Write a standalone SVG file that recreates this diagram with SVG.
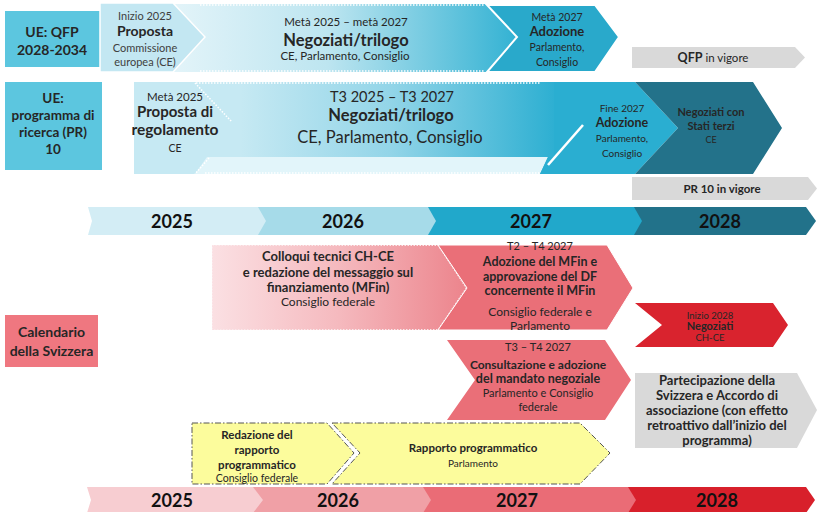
<svg xmlns="http://www.w3.org/2000/svg" width="817" height="512" viewBox="0 0 817 512">
<defs>
<linearGradient id="gTop" x1="173" y1="0" x2="517" y2="0" gradientUnits="userSpaceOnUse">
<stop offset="0" stop-color="#e3f4f9"/><stop offset="0.45" stop-color="#bde5f0"/><stop offset="1" stop-color="#33b2d3"/>
</linearGradient>
<linearGradient id="gRow2" x1="134" y1="0" x2="560" y2="0" gradientUnits="userSpaceOnUse">
<stop offset="0" stop-color="#c6e9f3"/><stop offset="0.25" stop-color="#c6e9f3"/><stop offset="0.6" stop-color="#93d5e8"/><stop offset="1" stop-color="#2aaed1"/>
</linearGradient>
<linearGradient id="gPink" x1="212" y1="0" x2="467" y2="0" gradientUnits="userSpaceOnUse">
<stop offset="0" stop-color="#fbe0e3"/><stop offset="0.5" stop-color="#f5b9be"/><stop offset="1" stop-color="#ec848c"/>
</linearGradient>
</defs>
<style>
text{font-family:Lato,"Liberation Sans",sans-serif;text-anchor:middle;fill:#262626}
.b{font-weight:bold}
.s{font-size:11px;fill:#404040}
.yr{font-size:18px;font-weight:bold;fill:#111}
.w{fill:none;stroke:#fff;stroke-width:1.5;stroke-dasharray:1.5 1.5}
.y{fill:#fcfc9c;stroke:#555;stroke-width:1;stroke-dasharray:6 2 1.5 2}
</style>
<rect width="817" height="512" fill="#fff"/>

<g id="ue-qfp">
<rect x="5" y="11" width="95" height="56" fill="#5cc6df"/>
<text x="52" y="37" class="b" font-size="14" fill="#1d2b36">UE: QFP</text>
<text x="52" y="55" class="b" font-size="14" fill="#1d2b36">2028-2034</text>
</g>

<g id="qfp-negoziati">
<polygon points="173,4 487,4 517,37 487,72 173,72" fill="url(#gTop)"/>
<line x1="200" y1="5" x2="485" y2="5" class="w"/>
<line x1="200" y1="71" x2="485" y2="71" class="w"/>
<text x="346" y="26" font-size="11.5" fill="#333">Metà 2025 – metà 2027</text>
<text x="346" y="45.5" class="b" font-size="16.5" fill="#1a1a1a">Negoziati/trilogo</text>
<text x="345" y="60" font-size="11.5" fill="#333">CE, Parlamento, Consiglio</text>
</g>

<g id="qfp-proposta">
<polygon points="100,3 173,3 205,37 173,72 100,72" fill="#c3e7f2" stroke="#fff" stroke-width="1.5"/>
<text x="145" y="20" class="s">Inizio 2025</text>
<text x="145" y="36" class="b" font-size="14" fill="#1a1a1a">Proposta</text>
<text x="145" y="52" class="s">Commissione</text>
<text x="145" y="66" class="s">europea (CE)</text>
</g>

<g id="qfp-adozione">
<polygon points="487,5 595,5 619,37 595,72 487,72 517,37" fill="#29a9cb" stroke="#fff" stroke-width="2"/>
<text x="557" y="21" font-size="10.5" fill="#1d3a46">Metà 2027</text>
<text x="557" y="36" class="b" font-size="13" fill="#142a33">Adozione</text>
<text x="557" y="51" font-size="10.5" fill="#1d3a46">Parlamento,</text>
<text x="557" y="66" font-size="10.5" fill="#1d3a46">Consiglio</text>
</g>

<g id="qfp-vigore">
<polygon points="632,47 795,47 805,57.5 795,68 632,68" fill="#d9d9d9"/>
<text x="713" y="62" font-size="11.5"><tspan class="b" font-size="12.5">QFP</tspan> in vigore</text>
</g>

<g id="ue-pr10">
<rect x="5" y="82" width="97" height="88" fill="#5cc6df"/>
<text x="53" y="103" class="b" font-size="13.5" fill="#1d2b36">UE:</text>
<text x="53" y="120" class="b" font-size="13.5" fill="#1d2b36">programma di</text>
<text x="53" y="137" class="b" font-size="13.5" fill="#1d2b36">ricerca (PR)</text>
<text x="53" y="154" class="b" font-size="13.5" fill="#1d2b36">10</text>
</g>

<g id="pr-negoziati">
<rect x="134" y="82" width="420" height="92" fill="url(#gRow2)"/>
<polygon points="207,157 548,157 540,174 195,174" fill="#e2f5fa"/>
<line x1="196" y1="83" x2="540" y2="83" class="w"/>
<line x1="205" y1="173" x2="540" y2="173" class="w"/>
<line x1="195" y1="83" x2="232" y2="122" class="w"/>
<line x1="209" y1="158" x2="195" y2="174" class="w"/>
<text x="392" y="102" font-size="14.5" fill="#1a1a1a">T3 2025 – T3 2027</text>
<text x="391" y="121" class="b" font-size="16.5" fill="#1a1a1a">Negoziati/trilogo</text>
<text x="390" y="143" font-size="16.5" fill="#262626">CE, Parlamento, Consiglio</text>
</g>

<g id="pr-proposta">
<text x="175" y="101" font-size="11.5" fill="#333">Metà 2025</text>
<text x="175" y="117" class="b" font-size="15" fill="#1a1a1a">Proposta di</text>
<text x="175" y="135" class="b" font-size="15.5" fill="#1a1a1a">regolamento</text>
<text x="175" y="152" font-size="10.5" fill="#333">CE</text>
</g>

<g id="pr-adozione">
<polygon points="548,82 635,82 678,128 635,174 540,174 548,157 554,157 554,82" fill="#2aaed1"/>
<line x1="548" y1="165" x2="583" y2="125" stroke="#fff" stroke-width="2.5"/>
<text x="622" y="112" font-size="10" fill="#1a4d5c">Fine 2027</text>
<text x="622" y="127" class="b" font-size="12.5" fill="#143e4a">Adozione</text>
<text x="622" y="142" font-size="10" fill="#1a4d5c">Parlamento,</text>
<text x="622" y="157" font-size="10" fill="#1a4d5c">Consiglio</text>
</g>

<g id="pr-stati-terzi">
<polygon points="635,82 753,82 782,128 753,174 635,174 678,128" fill="#23728a"/>
<text x="711" y="116" class="b" font-size="11" fill="#0e2630">Negoziati con</text>
<text x="711" y="130" class="b" font-size="11" fill="#0e2630">Stati terzi</text>
<text x="711" y="143" font-size="9" fill="#0e2630">CE</text>
</g>

<g id="pr-vigore">
<polygon points="632,177 808,177 817,188.5 808,200 632,200" fill="#d9d9d9"/>
<text x="722" y="192.5" class="b" font-size="11.5">PR 10 in vigore</text>
</g>

<g id="timeline-ue">
<polygon points="634,207 806,207 816,221 806,235 634,235" fill="#22728a"/>
<polygon points="428,207 634,207 642,221 634,235 428,235" fill="#21a8cb"/>
<polygon points="258,207 428,207 436,221 428,235 258,235" fill="#a6dbe9"/>
<polygon points="88,207 258,207 266,221 258,235 88,235 92,221" fill="#d3edf5"/>
<text x="172" y="227.5" class="yr">2025</text>
<text x="343" y="227.5" class="yr">2026</text>
<text x="531" y="227.5" class="yr">2027</text>
<text x="720" y="227.5" class="yr">2028</text>
</g>

<g id="ch-calendario">
<rect x="5" y="315" width="93" height="52" fill="#ef7780"/>
<text x="51.5" y="337" class="b" font-size="14" fill="#3a1216">Calendario</text>
<text x="51.5" y="356" class="b" font-size="14" fill="#3a1216">della Svizzera</text>
</g>

<g id="ch-colloqui">
<polygon points="212,245 438,245 467,288 438,330 212,330" fill="url(#gPink)"/>
<polygon points="212.5,245.5 438,245.5 466,288 438,329.5 212.5,329.5" fill="none" stroke="#fbe9eb" stroke-width="1" stroke-dasharray="1.5 1.5"/>
<text x="328" y="261" class="b" font-size="13">Colloqui tecnici CH-CE</text>
<text x="328" y="277" class="b" font-size="13">e redazione del messaggio sul</text>
<text x="328" y="292" class="b" font-size="13">finanziamento (MFin)</text>
<text x="328" y="306" font-size="12">Consiglio federale</text>
</g>

<g id="ch-adozione-mfin">
<polygon points="438,245 607,245 633,288 607,330 438,330 467,288" fill="#ea6f78" stroke="#fff" stroke-width="1"/>
<text x="540" y="250" font-size="11">T2 – T4 2027</text>
<text x="540" y="266" class="b" font-size="12.5">Adozione del MFin e</text>
<text x="540" y="281" class="b" font-size="12.5">approvazione del DF</text>
<text x="540" y="295" class="b" font-size="12.5">concernente il MFin</text>
<text x="540" y="316" font-size="12">Consiglio federale e</text>
<text x="540" y="330" font-size="12">Parlamento</text>
</g>

<g id="ch-negoziati">
<polygon points="635,303 773,303 788,325 773,347 635,347 662,325" fill="#d9232e"/>
<text x="710" y="318.5" font-size="9.5" fill="#8c1a22">Inizio 2028</text>
<text x="710" y="330" class="b" font-size="11" fill="#3a0c0e">Negoziati</text>
<text x="710" y="340.5" font-size="9.5" fill="#8c1a22">CH-CE</text>
</g>

<g id="ch-consultazione">
<polygon points="447,340 605,340 631,380 605,420 447,420 475,380" fill="#ea6f78"/>
<text x="538" y="351" font-size="11">T3 – T4 2027</text>
<text x="538" y="369" class="b" font-size="12">Consultazione e adozione</text>
<text x="538" y="383" class="b" font-size="12.5">del mandato negoziale</text>
<text x="538" y="397" font-size="11">Parlamento e Consiglio</text>
<text x="538" y="411" font-size="11">federale</text>
</g>

<g id="ch-partecipazione">
<polygon points="635,373 797,373 817,410 797,448 635,448" fill="#d9d9d9"/>
<text x="717" y="385" class="b" font-size="13">Partecipazione della</text>
<text x="717" y="400" class="b" font-size="13">Svizzera e Accordo di</text>
<text x="717" y="415" class="b" font-size="13">associazione (con effetto</text>
<text x="717" y="430" class="b" font-size="13">retroattivo dall’inizio del</text>
<text x="717" y="445" class="b" font-size="13">programma)</text>
</g>

<g id="ch-redazione">
<polygon points="192,423 327,423 354,453 327,484 192,484" class="y"/>
<text x="257" y="439" class="b" font-size="11.5">Redazione del</text>
<text x="257" y="454" class="b" font-size="11.5">rapporto</text>
<text x="257" y="469" class="b" font-size="11.5">programmatico</text>
<text x="257" y="482" font-size="10.5">Consiglio federale</text>
</g>

<g id="ch-rapporto">
<polygon points="332,423 580,423 610,453 580,484 332,484 360,453" class="y"/>
<text x="473" y="452" class="b" font-size="11.5">Rapporto programmatico</text>
<text x="473" y="467" font-size="10">Parlamento</text>
</g>

<g id="timeline-ch">
<polygon points="628,487 806,487 815,500 806,513 628,513" fill="#d8202b"/>
<polygon points="423,487 628,487 636,500 628,513 423,513" fill="#ea6c76"/>
<polygon points="253,487 423,487 431,500 423,513 253,513" fill="#f0a0a6"/>
<polygon points="87,487 253,487 263,500 253,513 87,513 91,500" fill="#f7cdd1"/>
<text x="172" y="506.5" class="yr">2025</text>
<text x="338" y="506.5" class="yr">2026</text>
<text x="517" y="506.5" class="yr">2027</text>
<text x="717" y="506.5" class="yr">2028</text>
</g>

<g id="connectors"/>
</svg>
